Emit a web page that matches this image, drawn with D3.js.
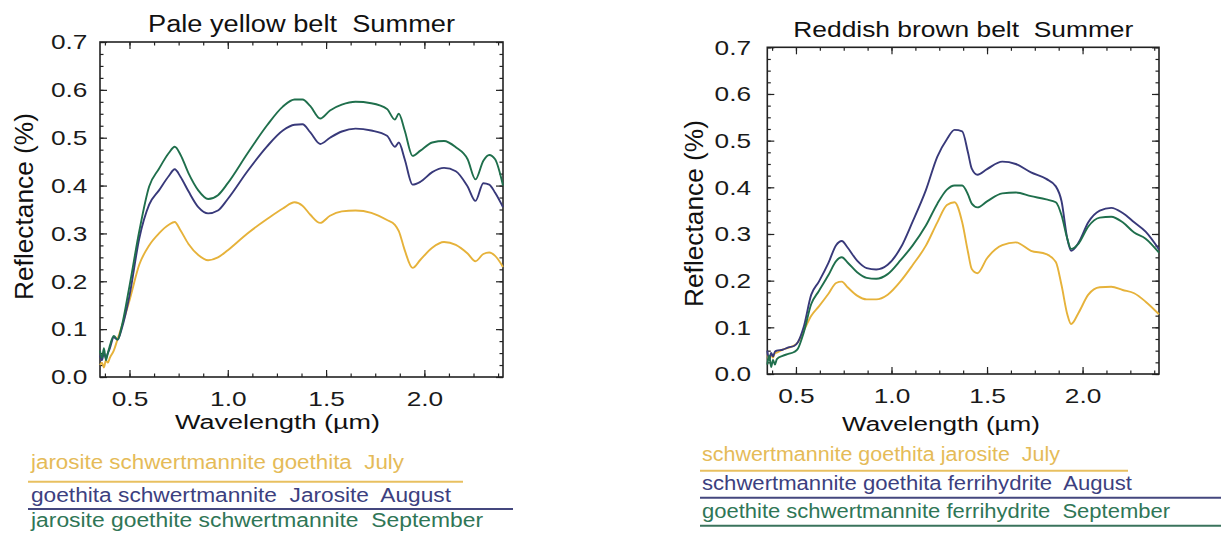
<!DOCTYPE html>
<html><head><meta charset="utf-8">
<script src="https://cdn.jsdelivr.net/npm/d3@7"></script>
<style>html,body{margin:0;padding:0;background:#fff;} svg{display:block;} text{font-family:"Liberation Sans",Arial,Helvetica,sans-serif;}</style>
</head><body>
<svg id="c" width="1221" height="534"></svg>
<script>
// ---------- DATA ----------
const paleWavelength = [0.35,0.36,0.37,0.38,0.39,0.40,0.42,0.44,0.46,0.50,0.55,0.60,0.65,0.70,0.73,0.76,0.80,0.85,0.90,0.95,1.00,1.10,1.20,1.28,1.34,1.38,1.42,1.47,1.52,1.58,1.65,1.73,1.81,1.85,1.87,1.90,1.94,1.98,2.04,2.10,2.16,2.22,2.26,2.30,2.33,2.36,2.40];
const paleJuly = [0.025,0.030,0.020,0.035,0.030,0.040,0.055,0.080,0.105,0.160,0.235,0.275,0.300,0.318,0.324,0.306,0.278,0.255,0.244,0.250,0.265,0.300,0.330,0.352,0.365,0.358,0.339,0.322,0.337,0.346,0.348,0.343,0.328,0.318,0.305,0.265,0.228,0.245,0.270,0.282,0.276,0.258,0.242,0.257,0.260,0.253,0.230];
const paleAugust = [0.045,0.035,0.050,0.040,0.050,0.060,0.083,0.078,0.100,0.170,0.290,0.360,0.390,0.420,0.434,0.418,0.388,0.355,0.342,0.348,0.372,0.430,0.482,0.515,0.527,0.528,0.511,0.487,0.500,0.513,0.519,0.515,0.504,0.481,0.490,0.455,0.402,0.408,0.428,0.437,0.430,0.398,0.368,0.405,0.402,0.385,0.355];
const paleSeptember = [0.055,0.040,0.060,0.035,0.050,0.065,0.086,0.078,0.105,0.190,0.305,0.398,0.435,0.468,0.481,0.464,0.426,0.390,0.372,0.380,0.405,0.467,0.526,0.565,0.580,0.580,0.566,0.540,0.557,0.569,0.575,0.572,0.560,0.538,0.550,0.515,0.462,0.473,0.490,0.493,0.480,0.455,0.413,0.452,0.464,0.455,0.400];

const brownWavelength = [0.35,0.36,0.37,0.38,0.39,0.40,0.43,0.46,0.49,0.51,0.54,0.58,0.62,0.67,0.71,0.74,0.77,0.82,0.87,0.92,0.98,1.05,1.11,1.18,1.24,1.29,1.33,1.37,1.40,1.42,1.45,1.50,1.58,1.65,1.73,1.81,1.86,1.89,1.92,1.94,1.98,2.03,2.09,2.15,2.21,2.27,2.33,2.40];
const brownJuly = [0.040,0.030,0.042,0.035,0.045,0.046,0.052,0.056,0.061,0.068,0.092,0.125,0.145,0.172,0.195,0.198,0.186,0.168,0.160,0.160,0.170,0.200,0.233,0.275,0.325,0.362,0.368,0.325,0.262,0.225,0.216,0.248,0.276,0.282,0.264,0.257,0.240,0.190,0.128,0.107,0.132,0.170,0.186,0.187,0.180,0.173,0.155,0.128];
const brownAugust = [0.050,0.030,0.045,0.038,0.048,0.050,0.052,0.057,0.060,0.068,0.100,0.170,0.198,0.238,0.276,0.285,0.271,0.243,0.227,0.224,0.234,0.272,0.326,0.394,0.466,0.503,0.523,0.520,0.475,0.440,0.427,0.439,0.455,0.450,0.432,0.418,0.402,0.370,0.290,0.264,0.282,0.325,0.350,0.356,0.345,0.325,0.305,0.267];
const brownSeptember = [0.020,0.040,0.015,0.030,0.020,0.032,0.039,0.043,0.047,0.054,0.088,0.150,0.178,0.212,0.242,0.250,0.239,0.218,0.206,0.204,0.214,0.245,0.275,0.318,0.365,0.395,0.404,0.404,0.385,0.365,0.357,0.370,0.387,0.389,0.381,0.374,0.368,0.340,0.290,0.268,0.280,0.316,0.335,0.337,0.325,0.303,0.290,0.260];

const xTickValues = [0.5, 1.0, 1.5, 2.0];
const yTickValues = [0.0, 0.1, 0.2, 0.3, 0.4, 0.5, 0.6, 0.7];
const xDomain = [0.35, 2.4];
const yDomain = [0, 0.7];

const paleTitle = "Pale yellow belt  Summer";
const brownTitle = "Reddish brown belt  Summer";
const xAxisTitle = "Wavelength (\u00b5m)";
const yAxisTitle = "Reflectance (%)";
const paleLegendLabels = ["jarosite schwertmannite goethita  July", "goethita schwertmannite  Jarosite  August", "jarosite goethite schwertmannite  September"];
const brownLegendLabels = ["schwertmannite goethita jarosite  July", "schwertmannite goethita ferrihydrite  August", "goethite schwertmannite ferrihydrite  September"];

// ---------- STYLE ----------
const lineColors = ["#e6b23a", "#38397a", "#1f6f4c"];
const legendTextColors = ["#e5bb58", "#3c3f80", "#2f7656"];
const legendLineColors = ["#e8c060", "#44477e", "#3a735c"];

const svg = d3.select("#c");

const panels = [
  { wl: paleWavelength, series: [paleJuly, paleAugust, paleSeptember], title: paleTitle, labels: paleLegendLabels,
    x0: 100, x1: 503, y0: 42, y1: 377, yPad: 9.6, xPad: 14,
    titleX: 301.5, titleY: 31.5, titleLen: 307, titleSize: 23,
    xtX: 277.5, xtY: 429, xtLen: 205,
    ytX: 33, ytY: 206.5, ytLen: 187,
    legend: { x: 31, rows: [469, 501.5, 527], lens: [373, 420, 452], lineX0: 28, lineX1s: [463, 513, 520], lineYs: [481.7, 509, 536.5] } },
  { wl: brownWavelength, series: [brownJuly, brownAugust, brownSeptember], title: brownTitle, labels: brownLegendLabels,
    x0: 767.3, x1: 1159, y0: 47.3, y1: 374, yPad: 12.5, xPad: 14,
    titleX: 963.3, titleY: 36.5, titleLen: 340, titleSize: 22,
    xtX: 941, xtY: 431, xtLen: 198,
    ytX: 703, ytY: 213.5, ytLen: 187,
    legend: { x: 702, rows: [460.5, 490, 517.5], lens: [358, 430, 468], lineX0: 700, lineX1s: [1128, 1221, 1221], lineYs: [470.7, 497.7, 525.7] } }
];

const xMinor = d3.range(3, 20).map(i => i * 0.125);
const yMinor = d3.range(0, 29).map(i => i * 0.025);
const fmt = d3.format(".1f");

panels.forEach(p => {
  const x = d3.scaleLinear().domain(xDomain).range([p.x0, p.x1]);
  const y = d3.scaleLinear().domain(yDomain).range([p.y1, p.y0]);
  const g = svg.append("g");

  function styleAxis(sel) {
    sel.select(".domain").remove();
    sel.selectAll(".tick line").attr("stroke", "#222").attr("stroke-width", 1.2);
  }
  // minor ticks
  g.append("g").attr("transform", `translate(0,${p.y1})`).call(d3.axisBottom(x).tickValues(xMinor).tickSize(-3.5).tickFormat("")).call(styleAxis);
  g.append("g").attr("transform", `translate(0,${p.y0})`).call(d3.axisTop(x).tickValues(xMinor).tickSize(-3.5).tickFormat("")).call(styleAxis);
  g.append("g").attr("transform", `translate(${p.x0},0)`).call(d3.axisLeft(y).tickValues(yMinor).tickSize(-3.5).tickFormat("")).call(styleAxis);
  g.append("g").attr("transform", `translate(${p.x1},0)`).call(d3.axisRight(y).tickValues(yMinor).tickSize(-3.5).tickFormat("")).call(styleAxis);
  // major ticks
  const bx = g.append("g").attr("transform", `translate(0,${p.y1})`).call(d3.axisBottom(x).tickValues(xTickValues).tickSize(-7).tickPadding(p.xPad).tickFormat(fmt)).call(styleAxis);
  g.append("g").attr("transform", `translate(0,${p.y0})`).call(d3.axisTop(x).tickValues(xTickValues).tickSize(-7).tickFormat("")).call(styleAxis);
  const ly = g.append("g").attr("transform", `translate(${p.x0},0)`).call(d3.axisLeft(y).tickValues(yTickValues).tickSize(-7).tickPadding(p.yPad).tickFormat(fmt)).call(styleAxis);
  g.append("g").attr("transform", `translate(${p.x1},0)`).call(d3.axisRight(y).tickValues(yTickValues).tickSize(-7).tickFormat("")).call(styleAxis);
  [bx, ly].forEach(a => a.selectAll(".tick text")
    .attr("font-size", 21).attr("fill", "#1a1a1a")
    .style("font-family", "'Liberation Sans',Arial,sans-serif")
    .attr("transform", "scale(1.25,1)"));
  ly.selectAll(".tick text").attr("x", -p.yPad - 0.5);

  // frame
  g.append("rect").attr("x", p.x0).attr("y", p.y0).attr("width", p.x1 - p.x0).attr("height", p.y1 - p.y0)
    .attr("fill", "none").attr("stroke", "#222").attr("stroke-width", 1.6);

  // lines
  const line = d3.line().x((d, i) => x(p.wl[i])).y(d => y(d)).curve(d3.curveMonotoneX);
  p.series.forEach((s, k) => {
    g.append("path").datum(s).attr("d", line).attr("fill", "none")
      .attr("stroke", lineColors[k]).attr("stroke-width", 1.9).attr("stroke-linejoin", "round");
  });

  // titles
  g.append("text").attr("x", p.titleX).attr("y", p.titleY).attr("text-anchor", "middle")
    .attr("font-size", p.titleSize).attr("fill", "#111").style("white-space", "pre")
    .attr("textLength", p.titleLen).attr("lengthAdjust", "spacingAndGlyphs").text(p.title);
  g.append("text").attr("x", p.xtX).attr("y", p.xtY).attr("text-anchor", "middle")
    .attr("font-size", 20).attr("fill", "#111")
    .attr("textLength", p.xtLen).attr("lengthAdjust", "spacingAndGlyphs").text(xAxisTitle);
  g.append("text").attr("transform", `translate(${p.ytX},${p.ytY}) rotate(-90)`).attr("text-anchor", "middle")
    .attr("font-size", 26).attr("fill", "#111")
    .attr("textLength", p.ytLen).attr("lengthAdjust", "spacingAndGlyphs").text(yAxisTitle);

  // legend
  p.labels.forEach((lab, k) => {
    g.append("text").attr("x", p.legend.x).attr("y", p.legend.rows[k])
      .attr("font-size", 20).attr("fill", legendTextColors[k]).style("white-space", "pre")
      .attr("textLength", p.legend.lens[k]).attr("lengthAdjust", "spacingAndGlyphs").text(lab);
    g.append("line").attr("x1", p.legend.lineX0).attr("x2", p.legend.lineX1s[k])
      .attr("y1", p.legend.lineYs[k]).attr("y2", p.legend.lineYs[k])
      .attr("stroke", legendLineColors[k]).attr("stroke-width", 2);
  });
});
</script>
</body></html>
